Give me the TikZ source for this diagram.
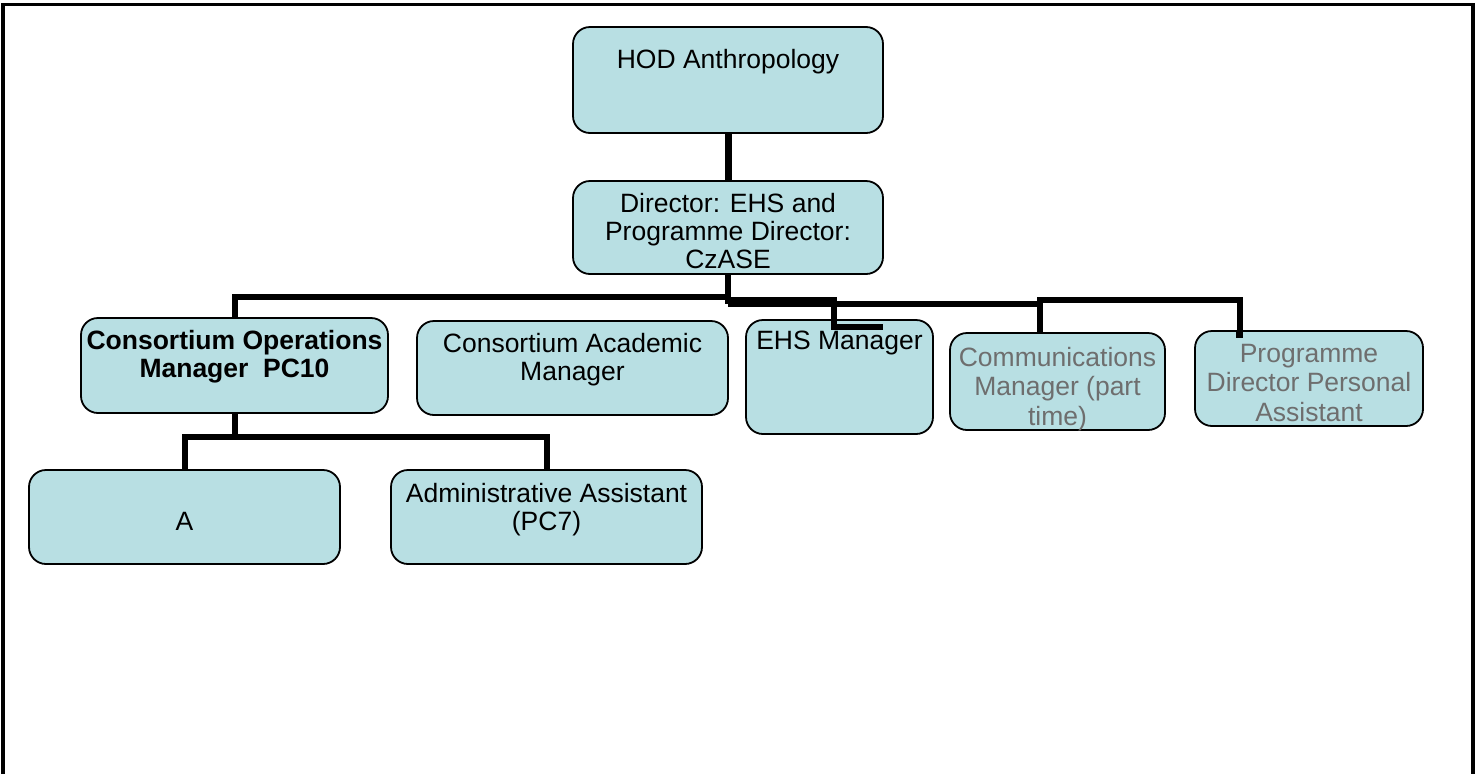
\documentclass[tikz,border=0pt]{standalone}
\usepackage{fontspec}
\setmainfont{Liberation Sans}
\definecolor{boxfill}{RGB}{184,223,227}
\definecolor{paletext}{RGB}{110,110,110}
\newcommand{\orgfont}{\fontsize{26.5}{28}\selectfont}
% width, height, top gap, text
\newcommand{\boxtext}[4]{\begin{minipage}[c][#2pt][t]{#1pt}\vspace*{#3pt}\centering #4\end{minipage}}
\tikzset{
  post/.style={draw=black, line width=1.8pt, rounded corners=17pt, fill=boxfill, inner sep=0pt, font=\orgfont},
  link/.style={line width=6pt},
}
\begin{document}
\begin{tikzpicture}[x=1pt,y=-1pt]
  \useasboundingbox (0,0) rectangle (1479,774);
  % frame
  \draw[line width=3.5pt] (3,774) -- (3,4.5) -- (1473,4.5) -- (1473,774);

  % boxes
  \node[post] (hod) at (728,80) {\boxtext{310}{106}{22}{HOD Anthropology}};
  \node[post] (dir) at (728,227.5) {\boxtext{310}{93}{12}{Director: EHS and\\Programme Director:\\CzASE}};
  \node[post] (ops) at (234.5,365.5) {\boxtext{307}{95}{12}{\bfseries Consortium Operations\\Manager\ \ PC10}};
  \node[post] (acad) at (572.5,368) {\boxtext{311}{94}{12}{Consortium Academic\\Manager}};
  \node[post] (ehs) at (839.5,377) {\boxtext{187}{114}{11}{EHS Manager}};
  \node[post] (comm) at (1057.5,381.5) {\boxtext{215}{97}{14}{\color{paletext}\baselineskip=29.5pt Communications\\Manager (part\\time)}};
  \node[post] (pa) at (1309,378.5) {\boxtext{228}{95}{13}{\color{paletext}\baselineskip=29.5pt Programme\\Director Personal\\Assistant}};
  \node[post] (a) at (184.5,517) {\boxtext{311}{94}{42}{A}};
  \node[post] (adm) at (546.5,517) {\boxtext{311}{94}{13}{Administrative Assistant\\(PC7)}};

  % joints
  \coordinate (dirleft) at (728,297);
  \coordinate (dirright) at (728,304);
  \coordinate (ehsbend) at (834,300);
  \coordinate (ehsfoot) at (883,327);
  \coordinate (commbend) at (1040,304);
  \coordinate (pabend) at (1240,300);
  \coordinate (pafoot) at (1236,335);
  \coordinate (opsjoin) at (234.5,437);

  % connectors
  \draw[line width=7pt] (hod.south) -- (dir.north);
  \draw[link] (dir.south) -- (dirleft) -| (ops.north);
  \draw[link] (dir.south) -- (dirright);
  \draw[link] (dirleft) |- (ehsbend) |- (ehsfoot);
  \draw[link] (dirright) -- (commbend) -- (comm.north -| commbend);
  \draw[link] (commbend) |- (pabend) |- (pafoot);
  \draw[link] (ops.south) -- (opsjoin);
  \draw[link] (a.north) |- (opsjoin) -| (adm.north);
\end{tikzpicture}
\end{document}
